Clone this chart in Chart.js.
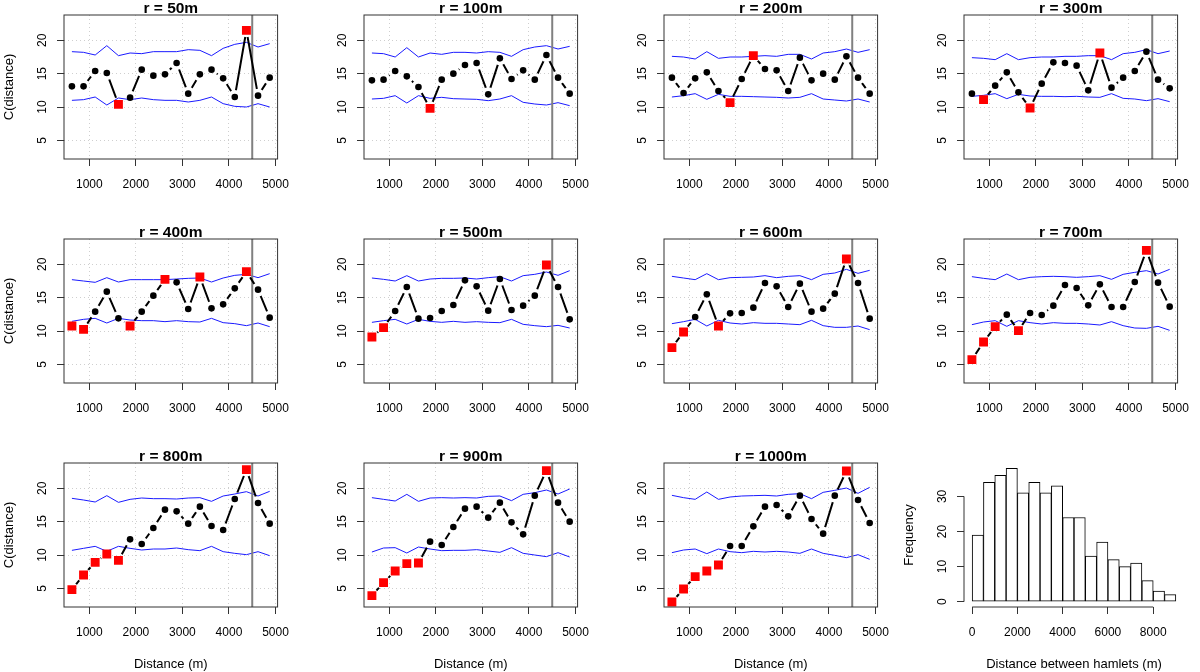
<!DOCTYPE html>
<html>
<head>
<meta charset="utf-8">
<script src="https://cdn.jsdelivr.net/npm/chart.js@4.4.1/dist/chart.umd.min.js"></script>
<style>
  html, body { margin: 0; padding: 0; background: #fff; }
  #grid { position: relative; width: 1200px; height: 672px; }
  .panel { position: absolute; width: 300px; height: 224px; }
</style>
</head>
<body>
<div id="grid"></div>
<script>
// Distance classes (m), shared by all correlogram panels
const distances = [625, 875, 1125, 1375, 1625, 1875, 2125, 2375, 2625, 2875, 3125, 3375, 3625, 3875, 4125, 4375, 4625, 4875];
const cutoff = 4500; // grey vertical line

// Tick values
const distTicks = [1000, 2000, 3000, 4000, 5000];
const cTicks = [5, 10, 15, 20];
const histXTicks = [0, 2000, 4000, 6000, 8000];
const histYTicks = [0, 10, 20, 30];

// Observed C(distance), upper / lower envelope, indices of significant classes (red)
const obs50 = [13.1, 13.1, 15.4, 15.1, 10.4, 11.4, 15.6, 14.7, 14.9, 16.6, 12.0, 14.9, 15.6, 14.3, 11.5, 21.5, 11.7, 14.4];
const hi50 = [18.3, 18.2, 17.8, 19.2, 17.7, 18.1, 18.0, 18.3, 18.3, 18.3, 18.6, 18.5, 17.7, 18.8, 19.4, 19.7, 19.0, 19.5];
const lo50 = [11.0, 11.1, 11.5, 10.3, 11.35, 11.1, 11.35, 11.1, 11.0, 11.0, 10.75, 11.0, 11.5, 10.5, 10.1, 10.0, 10.5, 10.0];
const sig50 = [4, 15];

const obs100 = [14.0, 14.1, 15.4, 14.6, 13.0, 9.8, 14.1, 15.0, 16.3, 16.6, 11.9, 17.3, 14.2, 15.5, 14.1, 17.8, 14.4, 12.0];
const hi100 = [18.1, 18.0, 17.5, 18.9, 17.5, 18.1, 17.9, 18.2, 18.2, 18.1, 18.3, 18.2, 17.6, 18.6, 19.0, 19.2, 18.7, 19.1];
const lo100 = [11.2, 11.3, 11.7, 10.6, 11.7, 11.3, 11.45, 11.25, 11.2, 11.15, 10.95, 11.2, 11.7, 10.7, 10.45, 10.3, 10.65, 10.2];
const sig100 = [5];

const obs200 = [14.4, 12.1, 14.3, 15.2, 12.4, 10.65, 14.2, 17.7, 15.7, 15.5, 12.4, 17.4, 14.0, 15.0, 14.1, 17.6, 14.4, 12.0];
const hi200 = [17.6, 17.5, 17.2, 18.3, 17.3, 17.5, 17.5, 17.6, 17.7, 17.6, 17.9, 17.9, 17.2, 18.1, 18.3, 18.7, 18.2, 18.6];
const lo200 = [11.5, 11.7, 12.0, 11.15, 11.9, 11.6, 11.6, 11.55, 11.5, 11.45, 11.35, 11.45, 12.0, 11.2, 11.05, 10.9, 11.2, 10.75];
const sig200 = [5, 7];

const obs300 = [12.0, 11.1, 13.2, 15.2, 12.2, 9.85, 13.5, 16.7, 16.6, 16.2, 12.5, 18.1, 12.9, 14.4, 15.4, 18.3, 14.1, 12.8];
const hi300 = [17.4, 17.3, 17.1, 18.0, 17.1, 17.4, 17.5, 17.5, 17.6, 17.6, 17.7, 17.7, 17.1, 18.0, 18.2, 18.6, 18.0, 18.4];
const lo300 = [11.6, 11.75, 12.0, 11.25, 11.9, 11.65, 11.6, 11.6, 11.55, 11.6, 11.5, 11.45, 12.0, 11.3, 11.2, 10.95, 11.25, 10.8];
const sig300 = [1, 5, 11];

const obs400 = [10.75, 10.25, 12.9, 15.9, 11.9, 10.75, 12.9, 15.3, 17.75, 17.3, 13.3, 18.1, 13.4, 14.0, 16.4, 18.9, 16.2, 12.0];
const hi400 = [17.7, 17.5, 17.3, 18.0, 17.35, 17.7, 17.7, 17.7, 17.7, 17.8, 17.9, 17.95, 17.35, 17.95, 18.35, 18.5, 18.0, 18.6];
const lo400 = [11.45, 11.75, 11.9, 11.2, 11.9, 11.65, 11.55, 11.55, 11.4, 11.55, 11.4, 11.35, 11.9, 11.25, 11.1, 10.8, 11.2, 10.65];
const sig400 = [0, 1, 5, 8, 11, 15];

const obs500 = [9.1, 10.5, 13.0, 16.6, 11.85, 11.95, 13.0, 13.9, 17.6, 16.7, 13.05, 17.8, 13.15, 13.8, 15.3, 19.9, 16.6, 11.75];
const hi500 = [17.95, 17.75, 17.5, 18.3, 17.5, 17.8, 17.9, 17.9, 17.95, 17.8, 18.0, 18.15, 17.5, 18.3, 18.5, 18.85, 18.35, 19.05];
const lo500 = [11.3, 11.55, 11.75, 11.05, 11.75, 11.45, 11.3, 11.45, 11.3, 11.4, 11.3, 11.25, 11.75, 11.0, 10.8, 10.65, 10.85, 10.45];
const sig500 = [0, 1, 15];

const obs600 = [7.5, 9.85, 12.1, 15.5, 10.75, 12.65, 12.7, 13.5, 17.2, 16.7, 13.6, 17.1, 12.9, 13.35, 15.6, 20.8, 17.2, 11.85];
const hi600 = [18.2, 17.95, 17.7, 18.6, 17.7, 18.0, 18.05, 18.1, 18.3, 18.0, 18.2, 18.3, 17.7, 18.5, 18.7, 19.25, 18.65, 19.1];
const lo600 = [11.1, 11.4, 11.75, 10.75, 11.6, 11.2, 11.05, 11.25, 11.15, 11.15, 11.05, 10.95, 11.6, 10.8, 10.55, 10.55, 10.75, 10.2];
const sig600 = [0, 1, 4, 15];

const obs700 = [5.7, 8.35, 10.65, 12.45, 10.05, 12.7, 12.4, 13.8, 16.9, 16.45, 13.85, 17.0, 13.6, 13.6, 17.35, 22.1, 17.25, 13.65];
const hi700 = [18.15, 17.9, 17.7, 18.55, 17.7, 18.05, 18.15, 18.2, 18.15, 18.05, 18.15, 18.3, 17.75, 18.5, 18.8, 19.05, 18.55, 19.25];
const lo700 = [10.95, 11.35, 11.55, 10.7, 11.55, 11.25, 11.05, 11.25, 11.15, 11.15, 11.05, 10.9, 11.4, 10.8, 10.45, 10.4, 10.7, 10.1];
const sig700 = [0, 1, 2, 4, 15];

const obs800 = [4.8, 7.0, 8.9, 10.15, 9.2, 12.35, 11.65, 14.05, 16.8, 16.55, 14.7, 17.25, 14.35, 13.75, 18.4, 22.8, 17.8, 14.7];
const hi800 = [18.5, 18.25, 17.95, 18.9, 17.9, 18.35, 18.55, 18.45, 18.45, 18.4, 18.55, 18.6, 18.05, 18.85, 19.15, 19.5, 18.85, 19.55];
const lo800 = [10.7, 11.0, 11.3, 10.55, 11.3, 11.0, 10.75, 10.9, 10.9, 11.05, 10.8, 10.65, 11.3, 10.5, 10.25, 10.05, 10.5, 9.9];
const sig800 = [0, 1, 2, 3, 4, 15];

const obs900 = [3.9, 5.85, 7.6, 8.7, 8.8, 12.0, 11.5, 14.2, 16.95, 17.25, 15.6, 17.85, 14.9, 13.1, 18.9, 22.65, 17.85, 15.0];
const hi900 = [18.6, 18.35, 18.1, 19.1, 18.05, 18.55, 18.6, 18.55, 18.6, 18.55, 18.8, 18.85, 18.15, 19.1, 19.35, 19.75, 19.15, 19.9];
const lo900 = [10.45, 11.05, 11.1, 10.3, 11.2, 10.9, 10.65, 10.7, 10.7, 10.8, 10.6, 10.4, 11.1, 10.25, 10.0, 9.75, 10.35, 9.7];
const sig900 = [0, 1, 2, 3, 4, 15];

const obs1000 = [2.95, 4.9, 6.75, 7.6, 8.5, 11.35, 11.35, 14.3, 17.25, 17.5, 15.8, 18.9, 15.4, 13.2, 18.9, 22.6, 18.25, 14.8];
const hi1000 = [18.95, 18.6, 18.35, 19.45, 18.35, 18.7, 18.85, 18.9, 18.95, 18.85, 19.1, 19.2, 18.45, 19.4, 19.7, 20.05, 19.25, 20.15];
const lo1000 = [10.35, 10.75, 10.9, 10.2, 10.9, 10.5, 10.35, 10.55, 10.45, 10.55, 10.45, 10.25, 10.9, 10.25, 9.95, 9.6, 10.05, 9.35];
const sig1000 = [0, 1, 2, 3, 4, 15];

// Histogram of distances between hamlets (500 m bins)
const histMids = [250, 750, 1250, 1750, 2250, 2750, 3250, 3750, 4250, 4750, 5250, 5750, 6250, 6750, 7250, 7750, 8250, 8750];
const histCounts = [19, 34, 36, 38, 31, 34, 31, 33, 24, 24, 13, 17, 12, 10, 11, 6, 3, 2];

const panels = [
    { r: 50, obs: obs50, hi: hi50, lo: lo50, sig: sig50 },
    { r: 100, obs: obs100, hi: hi100, lo: lo100, sig: sig100 },
    { r: 200, obs: obs200, hi: hi200, lo: lo200, sig: sig200 },
    { r: 300, obs: obs300, hi: hi300, lo: lo300, sig: sig300 },
    { r: 400, obs: obs400, hi: hi400, lo: lo400, sig: sig400 },
    { r: 500, obs: obs500, hi: hi500, lo: lo500, sig: sig500 },
    { r: 600, obs: obs600, hi: hi600, lo: lo600, sig: sig600 },
    { r: 700, obs: obs700, hi: hi700, lo: lo700, sig: sig700 },
    { r: 800, obs: obs800, hi: hi800, lo: lo800, sig: sig800 },
    { r: 900, obs: obs900, hi: hi900, lo: lo900, sig: sig900 },
    { r: 1000, obs: obs1000, hi: hi1000, lo: lo1000, sig: sig1000 },
];

const FONT = '"Liberation Sans", Arial, Helvetica, sans-serif';
Chart.defaults.font.family = FONT;
Chart.defaults.color = "#000";

const GAP = 7; // R type="b" gap around points

// R-like decorations: panel title, box / axis lines, rotated y labels, gaps around points
const rStyle = {
    id: "rStyle",
    beforeDatasetDraw(chart, args) {
        const ds = chart.data.datasets[args.index];
        if (!ds.gapAround) return;
        const ctx = chart.ctx;
        const pts = chart.getDatasetMeta(args.index).data;
        ctx.save();
        pts.forEach((p) => {
            ctx.beginPath();
            ctx.rect(0, 0, chart.width, chart.height);
            ctx.moveTo(p.x + GAP, p.y);
            ctx.arc(p.x, p.y, GAP, 0, Math.PI * 2);
            ctx.clip("evenodd");
        });
    },
    afterDatasetDraw(chart, args) {
        if (chart.data.datasets[args.index].gapAround) chart.ctx.restore();
    },
    afterDraw(chart, args, opts) {
        const { ctx, chartArea: a, scales } = chart;
        ctx.save();
        ctx.strokeStyle = "#333";
        ctx.lineWidth = 1;
        if (opts.box) {
            ctx.strokeRect(a.left, a.top, a.right - a.left, a.bottom - a.top);
        } else {
            const xt = scales.x.ticks, yt = scales.y.ticks;
            ctx.beginPath();
            ctx.moveTo(scales.x.getPixelForValue(xt[0].value), a.bottom);
            ctx.lineTo(scales.x.getPixelForValue(xt[xt.length - 1].value), a.bottom);
            ctx.moveTo(a.left, scales.y.getPixelForValue(yt[0].value));
            ctx.lineTo(a.left, scales.y.getPixelForValue(yt[yt.length - 1].value));
            ctx.stroke();
        }
        // rotated y tick labels
        ctx.fillStyle = "#000";
        ctx.font = "12px " + FONT;
        ctx.textAlign = "center";
        ctx.textBaseline = "middle";
        scales.y.ticks.forEach((t) => {
            ctx.save();
            ctx.translate(a.left - 21, scales.y.getPixelForValue(t.value));
            ctx.rotate(-Math.PI / 2);
            ctx.fillText(String(t.value), 0, 0);
            ctx.restore();
        });
        if (opts.title) {
            ctx.font = "bold 15.5px " + FONT;
            ctx.fillText(opts.title, (a.left + a.right) / 2, 8.5);
        }
        ctx.restore();
    },
};
Chart.register(rStyle);

function xAxis(min, max, tickValues, title, grid) {
    return {
        type: "linear", min, max, offset: false,
        afterFit(s) { s.height = 65; },
        afterBuildTicks(s) { s.ticks = tickValues.map((v) => ({ value: v })); },
        ticks: { padding: 11, maxRotation: 0, autoSkip: false, font: { size: 12 }, callback: (v) => String(v) },
        grid: { color: "#cfcfcf", drawOnChartArea: grid, tickLength: 7, tickColor: "#333", offset: false },
        border: { display: false, dash: [1, 3] },
        title: { display: !!title, text: title, font: { size: 13 }, padding: { top: 0, bottom: 0 } },
    };
}

function yAxis(min, max, tickValues, title, grid) {
    return {
        type: "linear", min, max,
        afterFit(s) { s.width = 64; },
        afterBuildTicks(s) { s.ticks = tickValues.map((v) => ({ value: v })); },
        ticks: { display: false },
        grid: { color: "#cfcfcf", drawOnChartArea: grid, tickLength: 7, tickColor: "#333" },
        border: { display: false, dash: [1, 3] },
        title: { display: !!title, text: title, font: { size: 13 }, padding: { top: 1.5, bottom: 0 } },
    };
}

function addCanvas(i) {
    const div = document.createElement("div");
    div.className = "panel";
    div.style.left = (i % 4) * 300 + "px";
    div.style.top = Math.floor(i / 4) * 224 + "px";
    const canvas = document.createElement("canvas");
    canvas.width = 300;
    canvas.height = 224;
    div.appendChild(canvas);
    document.getElementById("grid").appendChild(div);
    return canvas;
}

const baseOptions = {
    responsive: false,
    animation: false,
    events: [],
    layout: { padding: { top: 15, right: 16, left: 0, bottom: 0 } },
};

panels.forEach((p, i) => {
    const pts = (arr) => distances.map((d, k) => ({ x: d, y: arr[k] }));
    const red = distances.map((d, k) => ({ x: d, y: p.sig.includes(k) ? p.obs[k] : null }));
    new Chart(addCanvas(i), {
        type: "line",
        data: {
            datasets: [
                { data: red, showLine: false, pointStyle: "rect", pointRadius: 6.3, backgroundColor: "#ff0000", borderWidth: 0 },
                { data: pts(p.obs), showLine: false, pointRadius: 3.3, backgroundColor: "#000", borderWidth: 0 },
                { data: pts(p.obs), gapAround: true, borderColor: "#000", borderWidth: 2, pointRadius: 0, tension: 0 },
                { data: [{ x: cutoff, y: -100 }, { x: cutoff, y: 100 }], borderColor: "#808080", borderWidth: 2, pointRadius: 0 },
                { data: pts(p.hi), borderColor: "#1a1aff", borderWidth: 1, pointRadius: 0, tension: 0 },
                { data: pts(p.lo), borderColor: "#1a1aff", borderWidth: 1, pointRadius: 0, tension: 0 },
            ],
        },
        options: {
            ...baseOptions,
            scales: {
                x: xAxis(455, 5045, distTicks, i >= 8 ? "Distance (m)" : "", true),
                y: yAxis(2.2, 23.8, cTicks, i % 4 === 0 ? "C(distance)" : "", true),
            },
            plugins: { legend: { display: false }, tooltip: { enabled: false }, rStyle: { box: true, title: `r = ${p.r}m` } },
        },
    });
});

// Histogram panel
new Chart(addCanvas(11), {
    type: "bar",
    data: {
        datasets: [{
            data: histMids.map((m, k) => ({ x: m, y: histCounts[k] })),
            backgroundColor: "#fff",
            borderColor: "#000",
            borderWidth: 1,
            borderSkipped: false,
            barPercentage: 1,
            categoryPercentage: 1,
        }],
    },
    options: {
        ...baseOptions,
        scales: {
            x: xAxis(-360, 9360, histXTicks, "Distance between hamlets (m)", false),
            y: yAxis(-1.52, 39.52, histYTicks, "Frequency", false),
        },
        plugins: { legend: { display: false }, tooltip: { enabled: false }, rStyle: { box: false } },
    },
});
</script>
</body>
</html>
